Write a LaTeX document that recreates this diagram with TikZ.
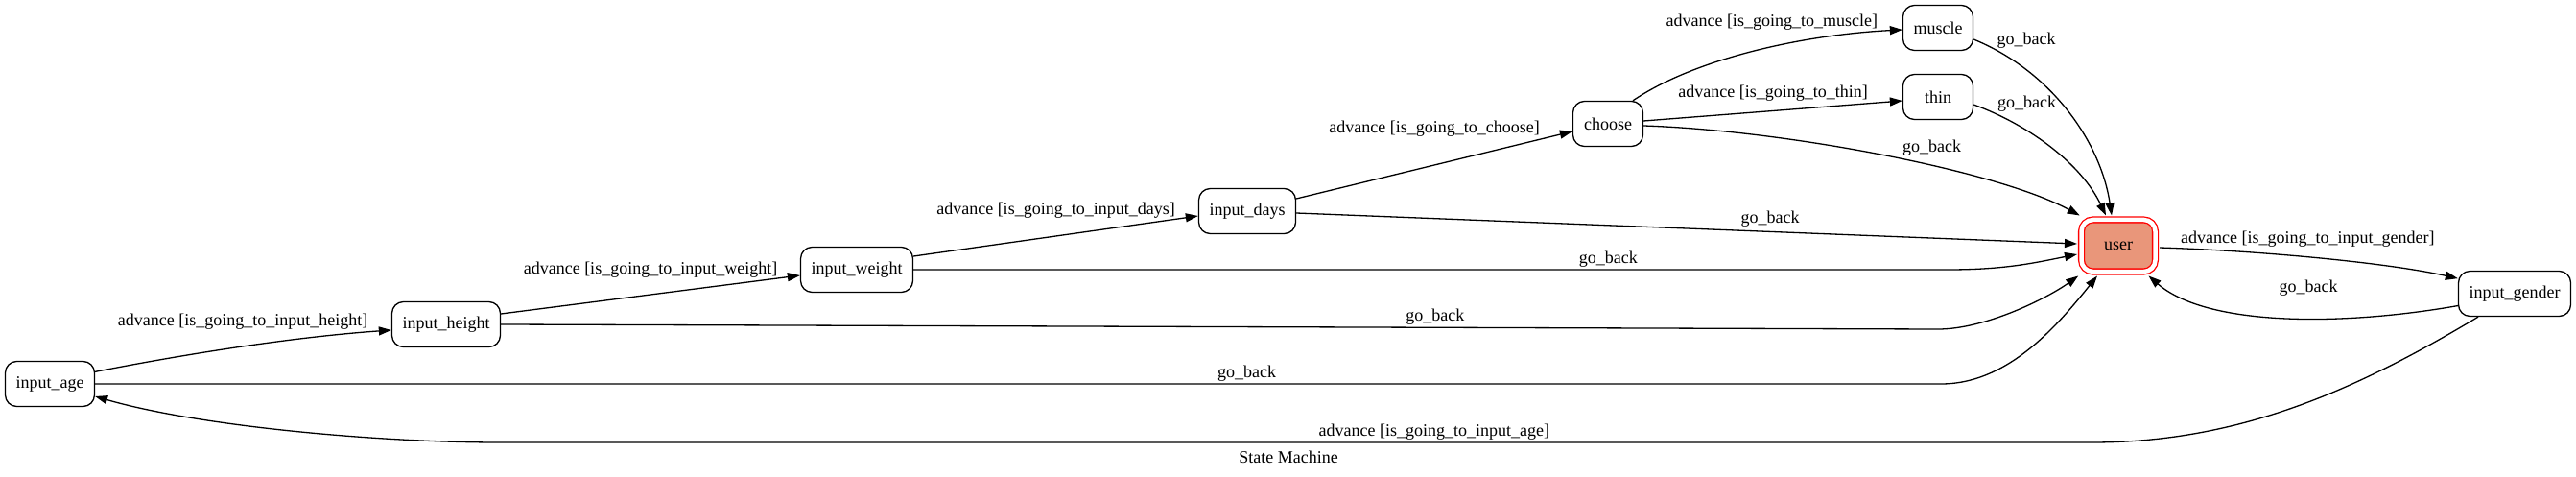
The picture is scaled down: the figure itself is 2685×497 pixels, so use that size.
\documentclass[tikz,border=0pt]{standalone}
\usepackage{fontspec}
\setmainfont{Liberation Serif}
\usetikzlibrary{arrows.meta}
\tikzset{>={Triangle[length=13pt,width=9pt]}}
\definecolor{mysalmon}{RGB}{233, 150, 122}
\newcommand{\gvfont}{\fontsize{18pt}{21pt}\selectfont}

\begin{document}
\begin{tikzpicture}[
    x = 1pt, y = -1pt,
    s0/.style = {draw, line width = 1.3, rounded corners = 12pt, minimum height = 47pt, minimum width = 73pt, inner xsep = 11pt, font = \gvfont},
    s1/.style = {s0, draw = red, fill = mysalmon, double = white, double distance = 4.5pt, minimum width = 77pt, minimum height = 54pt, outer sep = 4.5pt},
    e0/.style = {line width = 1.3, ->},
    l0/.style = {inner sep = 0pt, font = \gvfont}
]
\useasboundingbox (0,0) rectangle (2685,497);

\node[s0] (age) at (52,400) {input\_age};
\node[s0] (height) at (465,338) {input\_height};
\node[s0] (weight) at (893,281) {input\_weight};
\node[s0] (days) at (1300,220) {input\_days};
\node[s0] (choose) at (1676,129) {choose};
\node[s0] (muscle) at (2020,29) {muscle};
\node[s0] (thin) at (2020,101) {thin};
\node[s1] (user) at (2208,256) {user};
\node[s0] (gender) at (2621,306) {input\_gender};
\node[l0] (title) at (1343,476) {State Machine};

% advance
\draw[e0] (age.15) .. controls (198,368) and (308,351) .. ([yshift=-6pt]height.west) node[l0, pos=.5, yshift=26pt] {advance [is\_going\_to\_input\_height]};
\draw[e0] ([yshift=11pt]height.east) -- ([yshift=-6pt]weight.west) node[l0, pos=.5, yshift=26pt] {advance [is\_going\_to\_input\_weight]};
\draw[e0] ([yshift=14pt]weight.east) -- ([yshift=-5pt]days.west) node[l0, pos=.5, yshift=27pt] {advance [is\_going\_to\_input\_days]};
\draw[e0] ([yshift=13pt]days.east) -- ([yshift=-8pt]choose.west) node[l0, pos=.5, yshift=38pt] {advance [is\_going\_to\_choose]};
\draw[e0] ([xshift=26pt]choose.north) .. controls (1768,60) and (1883,36) .. ([yshift=-2pt]muscle.west) node[l0, pos=.5, xshift=17pt, yshift=30pt] {advance [is\_going\_to\_muscle]};
\draw[e0] ([yshift=3pt]choose.east) -- ([yshift=-4pt]thin.west) node[l0, pos=.5, yshift=18pt] {advance [is\_going\_to\_thin]};
\draw[e0] ([yshift=-2pt]user.east) .. controls (2349,261) and (2485,273) .. (gender.165) node[l0, pos=.5, xshift=-9pt, yshift=20pt] {advance [is\_going\_to\_input\_gender]};
\draw[e0] ([xshift=-38pt]gender.south) .. controls (2450,410) and (2330,461) .. (2180,461) -- (520,461) node[l0, pos=.4127, yshift=11pt] {advance [is\_going\_to\_input\_age]} .. controls (400,461) and (210,445) .. ([yshift=-13pt]age.east);

% go_back
\draw[e0] ([yshift=-2pt]choose.east) .. controls (1862,136) and (2082,178) .. (user.142) node[l0, pos=.6, yshift=19pt] {go\_back};
\draw[e0] ([yshift=-12pt]muscle.east) .. controls (2140,75) and (2190,150) .. ([xshift=-7pt]user.north) node[l0, pos=.15, xshift=20pt, yshift=17pt] {go\_back};
\draw[e0] ([yshift=-8pt]thin.east) .. controls (2117,131) and (2170,172) .. ([xshift=-13pt]user.north) node[l0, pos=.15, xshift=29pt, yshift=12pt] {go\_back};
\draw[e0] ([yshift=-2pt]days.east) -- ([yshift=2pt]user.west) node[l0, pos=.607, yshift=13pt] {go\_back};
\draw[e0] (weight.east) -- (2030,281) node[l0, pos=.672, yshift=11pt] {go\_back} .. controls (2090,281) and (2120,274) .. ([yshift=-9pt]user.west);
\draw[e0] (height.east) -- (2020,343) node[l0, pos=.65, yshift=11pt] {go\_back} .. controls (2070,343) and (2135,310) .. (user.217);
\draw[e0] (age.east) -- (2023,400) node[l0, pos=.624, yshift=11pt] {go\_back} .. controls (2090,400) and (2140,345) .. (user.235);
\draw[e0] (gender.192) .. controls (2440,340) and (2300,340) .. (user.315) node[l0, pos=.4, xshift=-7pt, yshift=32pt] {go\_back};

\end{tikzpicture}
\end{document}
